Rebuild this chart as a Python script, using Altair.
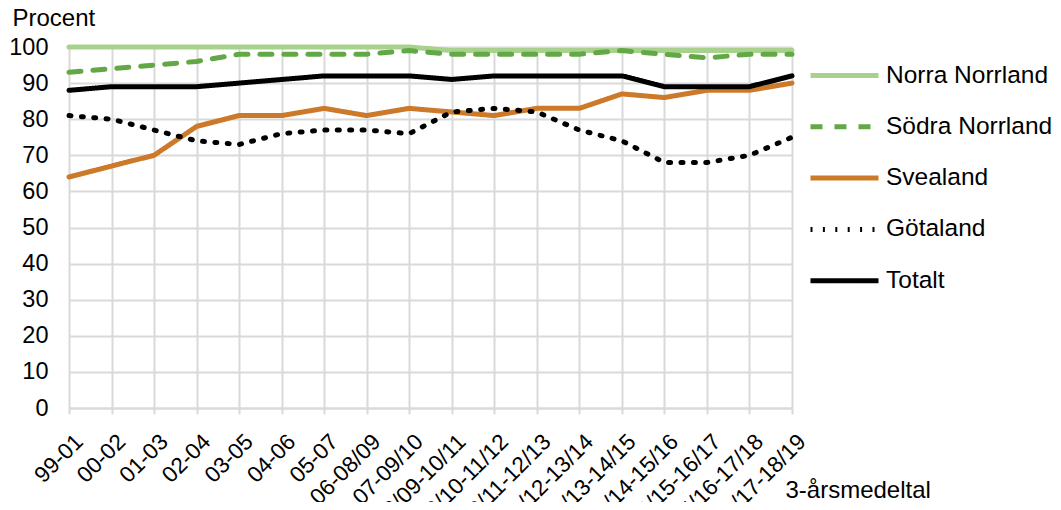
import altair as alt
import pandas as pd

periods = ["99-01", "00-02", "01-03", "02-04", "03-05", "04-06", "05-07",
           "06-08/09", "07-09/10", "08/09-10/11", "09/10-11/12", "10/11-12/13",
           "11/12-13/14", "12/13-14/15", "13/14-15/16", "14/15-16/17",
           "15/16-17/18", "16/17-18/19"]

norra_norrland = [100, 100, 100, 100, 100, 100, 100, 100, 100, 99, 99, 99, 99, 99, 99, 99, 99, 99]
sodra_norrland = [93, 94, 95, 96, 98, 98, 98, 98, 99, 98, 98, 98, 98, 99, 98, 97, 98, 98]
svealand = [64, 67, 70, 78, 81, 81, 83, 81, 83, 82, 81, 83, 83, 87, 86, 88, 88, 90]
gotaland = [81, 80, 77, 74, 73, 76, 77, 77, 76, 82, 83, 82, 77, 74, 68, 68, 70, 75]
totalt = [88, 89, 89, 89, 90, 91, 92, 92, 92, 91, 92, 92, 92, 92, 89, 89, 89, 92]

series_names = ["Norra Norrland", "Södra Norrland", "Svealand", "Götaland", "Totalt"]
series_values = [norra_norrland, sodra_norrland, svealand, gotaland, totalt]
series_colors = ["#A9D18E", "#62A846", "#CC7A29", "#000000", "#000000"]
series_dash = [[1, 0], [12, 12], [1, 0], [2, 10.4], [1, 0]]

rows = []
for i, (name, vals) in enumerate(zip(series_names, series_values)):
    for p, v in zip(periods, vals):
        rows.append({"Period": p, "Procent": v, "Serie": name})
df = pd.DataFrame(rows)

FONT = "Liberation Sans"

chart = alt.Chart(df).mark_line(strokeWidth=5, strokeJoin="round", strokeCap="round").encode(
    x=alt.X("Period:O", sort=periods,
            scale=alt.Scale(type="point", padding=0),
            axis=alt.Axis(title="3-årsmedeltal", labelAngle=-45, labelAlign="right",
                          labelBaseline="top", labelFontSize=22.5, labelPadding=16,
                          labelOffset=2,
                          labelColor="#000000", labelFont=FONT,
                          grid=True, gridColor="#D9D9D9", gridWidth=2,
                          domainColor="#D9D9D9", domainWidth=2,
                          tickColor="#D9D9D9", tickWidth=2, tickSize=6,
                          titleFont=FONT, titleFontSize=24, titleFontWeight="normal",
                          titleColor="#000000", titleAlign="left", titleBaseline="middle",
                          titleX=716, titleY=82, labelOverlap=False)),
    y=alt.Y("Procent:Q", scale=alt.Scale(domain=[0, 100]),
            axis=alt.Axis(values=list(range(0, 101, 10)), title="Procent",
                          labelFontSize=23.5, labelFont=FONT, labelColor="#000000",
                          labelPadding=21, ticks=False, domain=False,
                          grid=True, gridColor="#D9D9D9", gridWidth=2,
                          titleFont=FONT, titleFontSize=24, titleFontWeight="normal",
                          titleColor="#000000", titleAngle=0, titleAlign="left",
                          titleBaseline="middle", titleX=-57, titleY=-29)),
    color=alt.Color("Serie:N", sort=series_names,
                    scale=alt.Scale(domain=series_names, range=series_colors),
                    legend=alt.Legend(title=None, orient="none", legendX=759, legendY=12,
                                      symbolType="M-2.5,0H2.5", symbolSize=740,
                                      symbolStrokeWidth=5, labelFontSize=24.5,
                                      labelFont=FONT, labelColor="#000000",
                                      labelLimit=400,
                                      rowPadding=23.3, labelOffset=25)),
    strokeDash=alt.StrokeDash("Serie:N", sort=series_names,
                              scale=alt.Scale(domain=series_names, range=series_dash),
                              legend=None),
).properties(width=723, height=361,
             autosize=alt.AutoSizeParams(type="none"),
             padding={"left": 61, "top": 39, "right": 260, "bottom": 94}
).configure_view(stroke=None)

chart.save("out.html", embed_options={"renderer": "svg", "actions": False})
